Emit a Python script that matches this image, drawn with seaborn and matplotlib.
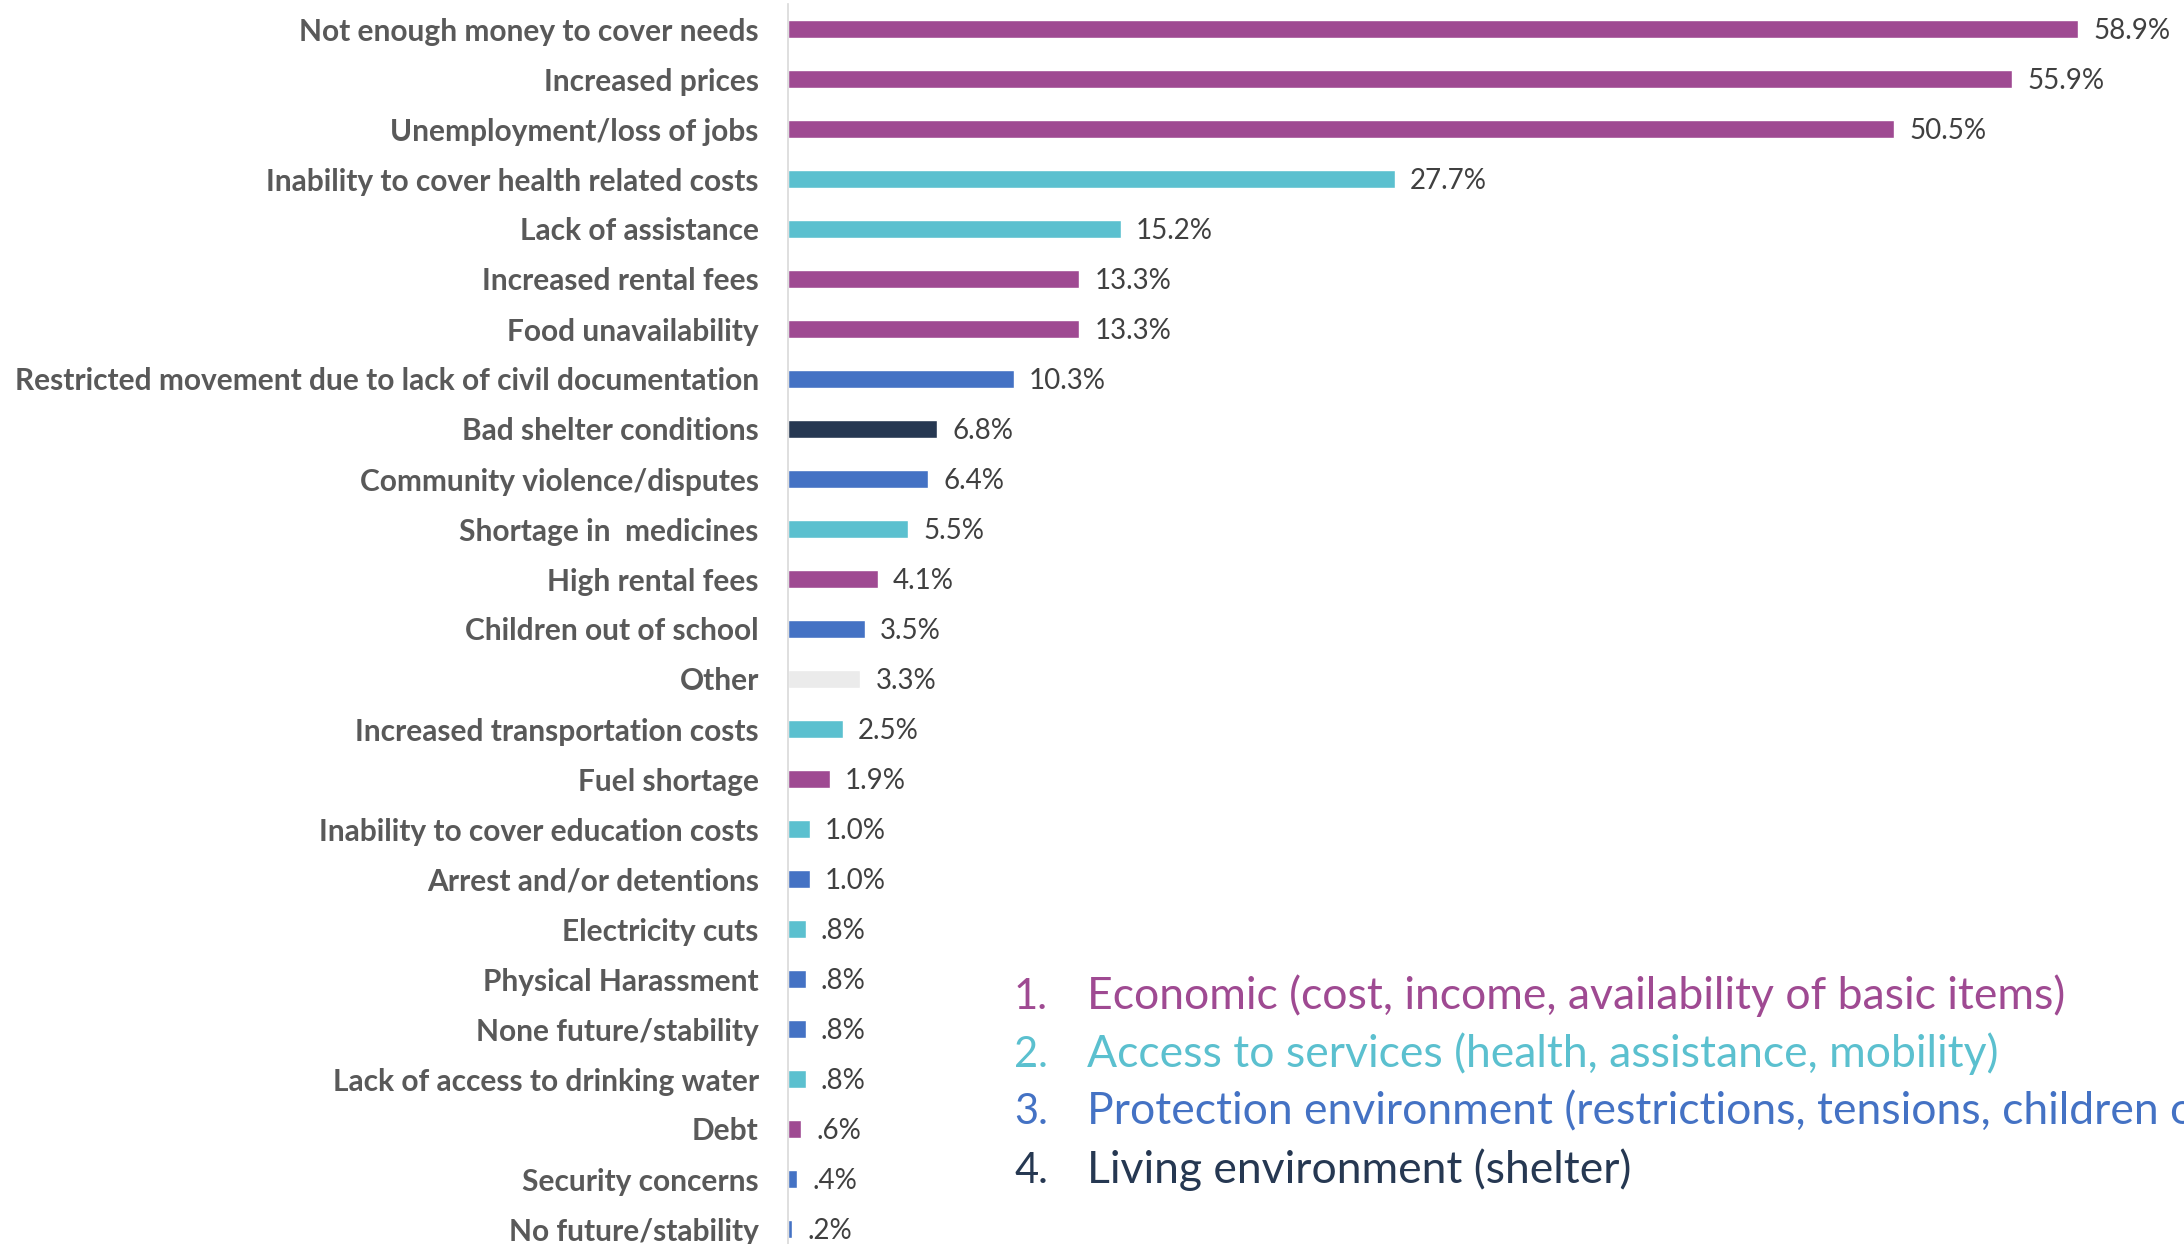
import matplotlib
matplotlib.use("Agg")
import matplotlib.pyplot as plt
import seaborn as sns
import pandas as pd

# Reported problems, share of respondents (%)
problems = [
    "Not enough money to cover needs",
    "Increased prices",
    "Unemployment/loss of jobs",
    "Inability to cover health related costs",
    "Lack of assistance",
    "Increased rental fees",
    "Food unavailability",
    "Restricted movement due to lack of civil documentation",
    "Bad shelter conditions",
    "Community violence/disputes",
    "Shortage in  medicines",
    "High rental fees",
    "Children out of school",
    "Other",
    "Increased transportation costs",
    "Fuel shortage",
    "Inability to cover education costs",
    "Arrest and/or detentions",
    "Electricity cuts",
    "Physical Harassment",
    "None future/stability",
    "Lack of access to drinking water",
    "Debt",
    "Security concerns",
    "No future/stability",
]
shares = [58.9, 55.9, 50.5, 27.7, 15.2, 13.3, 13.3, 10.3, 6.8, 6.4, 5.5, 4.1,
          3.5, 3.3, 2.5, 1.9, 1.0, 1.0, 0.8, 0.8, 0.8, 0.8, 0.6, 0.4, 0.2]
groups = ["Economic", "Economic", "Economic", "Access", "Access", "Economic",
          "Economic", "Protection", "Living", "Protection", "Access", "Economic",
          "Protection", "Other", "Access", "Economic", "Access", "Protection",
          "Access", "Protection", "Protection", "Access", "Economic",
          "Protection", "Protection"]

group_colors = {
    "Economic": "#9F4A92",
    "Access": "#5BC0CF",
    "Protection": "#4472C4",
    "Living": "#263852",
    "Other": "#EBEBEB",
}

key_numbers = ["1.", "2.", "3.", "4."]
key_texts = [
    "Economic (cost, income, availability of basic items)",
    "Access to services (health, assistance, mobility)",
    "Protection environment (restrictions, tensions, children out of school)",
    "Living environment (shelter)",
]
key_groups = ["Economic", "Access", "Protection", "Living"]

df = pd.DataFrame({"problem": problems, "share": shares, "group": groups})

sns.set_theme(style="white")
plt.rcParams["font.family"] = ["Lato", "DejaVu Sans"]

W, H = 2184, 1244
fig = plt.figure(figsize=(W / 100, H / 100), dpi=100)
ax = fig.add_axes([788 / W, -10 / H, 1396 / W, 1250 / H])

sns.barplot(data=df, x="share", y="problem", hue="group", palette=group_colors,
            dodge=False, legend=False, width=0.355, ax=ax, saturation=1)

ax.set_xlim(0, 1396 / 21.9)
ax.set_ylim(len(problems) - 0.5, -0.5)
ax.set_xlabel("")
ax.set_ylabel("")
ax.set_xticks([])
ax.tick_params(axis="y", length=0, pad=21, labelsize=21.5, labelcolor="#595959")
for lbl in ax.get_yticklabels():
    lbl.set_fontweight("bold")

for side in ["top", "right", "bottom"]:
    ax.spines[side].set_visible(False)
ax.spines["left"].set_color("#D9D9D9")
ax.spines["left"].set_linewidth(1.2)


def pct(v):
    s = f"{v:.1f}%"
    return s[1:] if s.startswith("0") else s


for cont in ax.containers:
    for t in ax.bar_label(cont, fmt=pct, padding=11, fontsize=20, color="#404040"):
        x, y = t.xyann
        t.xyann = (x, y - 1.5)

# Category key
baselines = [1009, 1067, 1124, 1183]
for num, txt, grp, yb in zip(key_numbers, key_texts, key_groups, baselines):
    c = group_colors[grp]
    fig.text(1014 / W, 1 - yb / H, num, color=c, fontsize=30, va="baseline")
    fig.text(1087 / W, 1 - yb / H, txt, color=c, fontsize=32, va="baseline")

fig.savefig("out.png", dpi=100)
